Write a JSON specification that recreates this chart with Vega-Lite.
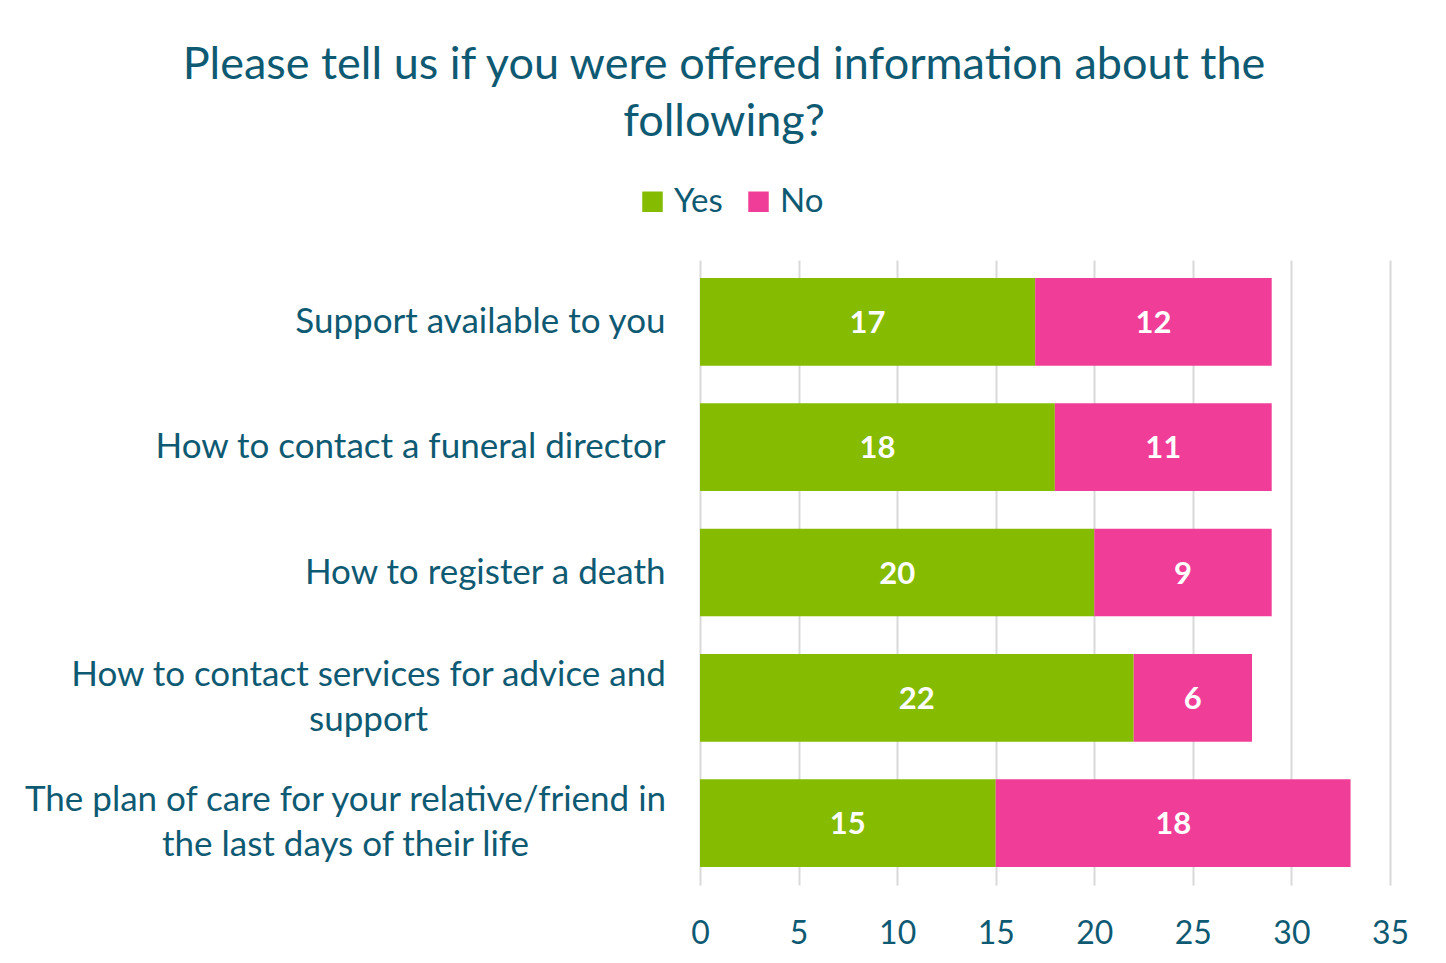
{
  "$schema": "https://vega.github.io/schema/vega-lite/v6.json",
  "autosize": "none",
  "width": 690,
  "height": 625,
  "padding": {"left": 700, "top": 260, "right": 56, "bottom": 78},
  "background": "white",
  "config": {
    "font": "Lato",
    "view": {"stroke": null}
  },
  "title": {
    "text": ["Please tell us if you were offered information about the", "following?"],
    "fontSize": 45,
    "fontWeight": "normal",
    "color": "#0F5A73",
    "font": "Lato",
    "anchor": "middle",
    "frame": "group",
    "dx": -321,
    "lineHeight": 57,
    "offset": 40
  },
  "data": {
    "values": [
      {"Item": "Support available to you", "Response": "Yes", "Count": 17},
      {"Item": "Support available to you", "Response": "No", "Count": 12},
      {"Item": "How to contact a funeral director", "Response": "Yes", "Count": 18},
      {"Item": "How to contact a funeral director", "Response": "No", "Count": 11},
      {"Item": "How to register a death", "Response": "Yes", "Count": 20},
      {"Item": "How to register a death", "Response": "No", "Count": 9},
      {"Item": "How to contact services for advice and|support", "Response": "Yes", "Count": 22},
      {"Item": "How to contact services for advice and|support", "Response": "No", "Count": 6},
      {"Item": "The plan of care for your relative/friend in|the last days of their life", "Response": "Yes", "Count": 15},
      {"Item": "The plan of care for your relative/friend in|the last days of their life", "Response": "No", "Count": 18}
    ]
  },
  "transform": [
    {"stack": "Count", "groupby": ["Item"], "sort": [{"field": "Response", "order": "descending"}], "as": ["x0", "x1"]},
    {"calculate": "(datum.x0 + datum.x1) / 2", "as": "mid"}
  ],
  "encoding": {
    "y": {
      "field": "Item",
      "type": "nominal",
      "sort": null,
      "scale": {
        "domain": [
          "Support available to you",
          "How to contact a funeral director",
          "How to register a death",
          "How to contact services for advice and|support",
          "The plan of care for your relative/friend in|the last days of their life"
        ],
        "paddingInner": 0.3,
        "paddingOuter": 0.144
      },
      "axis": {
        "title": null,
        "domain": false,
        "ticks": false,
        "labelExpr": "split(datum.label, '|')",
        "labelFontSize": 35,
        "labelColor": "#0F5A73",
        "labelLineHeight": 45,
        "labelLimit": 800,
        "labelAlign": {"condition": {"test": "indexof(datum.value, '|') >= 0", "value": "center"}, "value": "right"},
        "labelPadding": {"condition": [
          {"test": "indexof(datum.value, 'advice') >= 0", "value": 332},
          {"test": "indexof(datum.value, 'plan of care') >= 0", "value": 355}
        ], "value": 35},
        "labelOffset": {"condition": {"test": "indexof(datum.value, '|') >= 0", "value": -23}, "value": 0}
      }
    }
  },
  "layer": [
    {
      "mark": {"type": "bar"},
      "encoding": {
        "x": {
          "field": "x0",
          "type": "quantitative",
          "scale": {"domain": [0, 35]},
          "axis": {
            "title": null,
            "values": [0, 5, 10, 15, 20, 25, 30, 35],
            "domain": false,
            "ticks": false,
            "grid": true,
            "gridColor": "#D9D9D9",
            "gridWidth": 2,
            "labelFontSize": 32,
            "labelColor": "#0F5A73",
            "labelPadding": 33,
            "labelFlush": false
          }
        },
        "x2": {"field": "x1"},
        "color": {
          "field": "Response",
          "type": "nominal",
          "scale": {"domain": ["Yes", "No"], "range": ["#85BB00", "#F03E98"]},
          "legend": {
            "title": null,
            "orient": "none",
            "direction": "horizontal",
            "legendX": -64,
            "legendY": -75,
            "symbolType": "square",
            "symbolSize": 420,
            "symbolStrokeWidth": 0,
            "labelFontSize": 33,
            "labelColor": "#0F5A73",
            "columnPadding": 19,
            "labelOffset": 5
          }
        }
      }
    },
    {
      "mark": {"type": "text", "color": "white", "fontSize": 31, "fontWeight": "bold", "baseline": "middle", "align": "center", "dy": 2},
      "encoding": {
        "x": {"field": "mid", "type": "quantitative"},
        "text": {"field": "Count", "type": "quantitative"}
      }
    }
  ]
}
